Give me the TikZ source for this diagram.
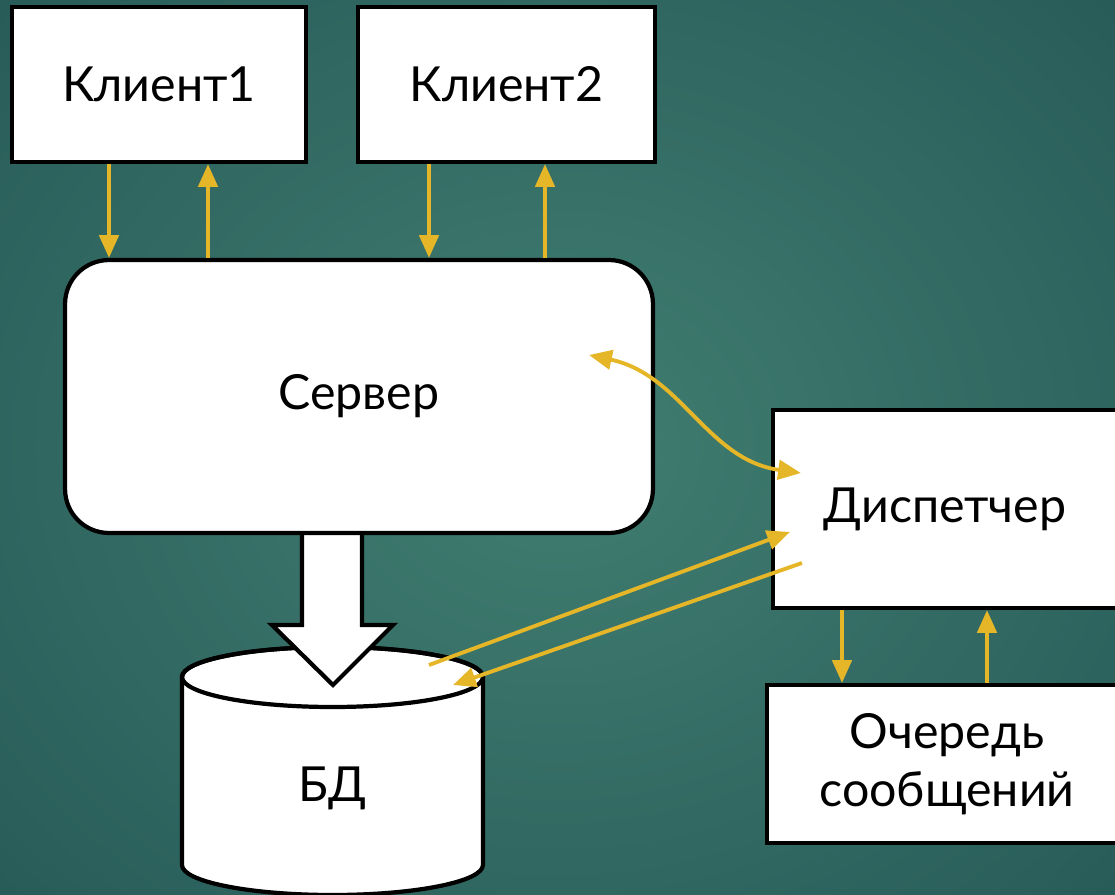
\documentclass[tikz,border=0pt]{standalone}
\usepackage{fontspec}
\setmainfont{Lato}
\usetikzlibrary{arrows.meta,positioning,calc}

\definecolor{bgcentre}{RGB}{65,126,113}
\definecolor{bgedge}{RGB}{40,92,89}
\definecolor{linkgold}{RGB}{229,182,40}

\tikzset{
  txt/.style={font=\fontsize{27.5}{33}\selectfont, align=center},
  box/.style={txt, draw=black, line width=2.4pt, fill=white, inner sep=0pt},
  link/.style={draw=linkgold, line width=2.2pt, -{Triangle[length=13pt,width=11pt]}},
  duplex/.style={draw=linkgold, line width=2.2pt, {Triangle[length=13pt,width=11pt]}-{Triangle[length=13pt,width=11pt]}},
}

\begin{document}
\begin{tikzpicture}[x=0.02cm, y=0.02cm]
		% background
		\useasboundingbox (0,0) rectangle (1115,-895);
		\clip (0,0) rectangle (1115,-895);
		\shade[inner color=bgcentre, outer color=bgedge] (-200,200) rectangle (1315,-1095);
		
		% database
		\coordinate (dbtop) at (332.5,-677);
		\filldraw[fill=white, line width=2.4pt] (182,-677) -- (182,-865)
			arc[start angle=180, end angle=360, x radius=3.01cm, y radius=0.6cm] -- (483,-677)
			arc[start angle=0, end angle=180, x radius=3.01cm, y radius=0.6cm] -- cycle;
		\draw[line width=2.4pt] (dbtop) ellipse[x radius=3.01cm, y radius=0.6cm];
		\node[txt] (db) at (332.5,-788) {БД};
		
		% block arrow into the database
		\filldraw[fill=white, line width=2.4pt, line join=miter] (302,-533) -- (302,-625) -- (272,-625)
			-- (333,-685) -- (393,-625) -- (362,-625) -- (362,-533);
		
		% boxes
		\node[box, minimum width=5.88cm, minimum height=3.1cm] (cl1) at (159,-84.5) {Клиент1};
		\node[box, minimum width=5.94cm, minimum height=3.1cm] (cl2) at (506.5,-84.5) {Клиент2};
		\node[box, rounded corners=25pt, minimum width=11.76cm, minimum height=5.46cm] (srv) at (359,-396.5) {Сервер};
		\node[box, minimum width=6.88cm, minimum height=3.96cm] (disp) at (945,-509) {Диспетчер};
		\node[box, minimum width=7.2cm, minimum height=3.16cm] (queue) at (947,-764) {Очередь\\сообщений};
		
		% links
		\draw[link] ($(cl1.south)+(-50,0)$) -- ($(srv.north)+(-250,0)$);
		\draw[link] ($(srv.north)+(-151,0)$) -- ($(cl1.south)+(49,0)$);
		\draw[link] ($(cl2.south)+(-77.5,0)$) -- ($(srv.north)+(70,0)$);
		\draw[link] ($(srv.north)+(186,0)$) -- ($(cl2.south)+(38.5,0)$);
		\draw[duplex] ($(srv.east)+(-66,41.5)$) to[out=-12, in=172] ($(disp.west)+(30,36)$);
		\draw[link] ($(dbtop)+(96.5,12)$) -- ($(disp.west)+(19,-23)$);
		\draw[link] ($(disp.west)+(31,-54)$) -- ($(dbtop)+(120.5,-8)$);
		\draw[link] ($(disp.south)+(-103,0)$) -- ($(queue.north)+(-105,0)$);
		\draw[link] ($(queue.north)+(40,0)$) -- ($(disp.south)+(42,0)$);
	\end{tikzpicture}
\end{document}
